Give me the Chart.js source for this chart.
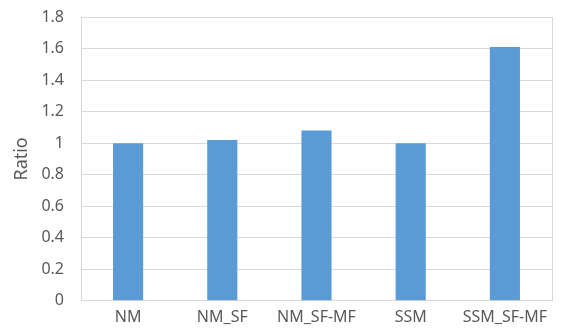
<!DOCTYPE html>
<html>
<head>
<meta charset="utf-8">
<script src="https://cdn.jsdelivr.net/npm/chart.js@4/dist/chart.umd.min.js"></script>
<style>
  html, body { margin: 0; padding: 0; background: #ffffff; }
  #wrap { width: 561px; height: 334px; position: relative; }
</style>
</head>
<body>
<div id="wrap"><canvas id="chart"></canvas></div>
<script>
// Model names and their ratio values
const categories = ['NM', 'NM_SF', 'NM_SF-MF', 'SSM', 'SSM_SF-MF'];
const ratios = [1.0, 1.02, 1.08, 1.0, 1.61];
const yTicks = [0, 0.2, 0.4, 0.6, 0.8, 1, 1.2, 1.4, 1.6, 1.8];

const textColor = '#595959';
const lineColor = '#d9d9d9';
const fontFamily = '"Noto Sans", "Open Sans", sans-serif';

// Draws the right-hand frame line of the plot area
const frameRight = {
  id: 'frameRight',
  afterDatasetsDraw(chart) {
    const { ctx, chartArea } = chart;
    ctx.save();
    ctx.strokeStyle = lineColor;
    ctx.lineWidth = 1;
    ctx.beginPath();
    const x = Math.round(chartArea.right) + 0.5;
    ctx.moveTo(x, chartArea.top);
    ctx.lineTo(x, chartArea.bottom);
    ctx.stroke();
    ctx.restore();
  }
};

new Chart(document.getElementById('chart'), {
  type: 'bar',
  data: {
    labels: categories,
    datasets: [{
      data: ratios,
      backgroundColor: '#5b9bd5',
      borderWidth: 0,
      categoryPercentage: 1,
      barPercentage: 0.32
    }]
  },
  options: {
    responsive: true,
    maintainAspectRatio: false,
    animation: false,
    devicePixelRatio: 1,
    layout: { padding: { top: 0, right: 9, bottom: 0, left: 0 } },
    plugins: {
      legend: { display: false },
      tooltip: { enabled: false }
    },
    scales: {
      x: {
        grid: { display: false, drawTicks: false },
        border: { display: true, color: lineColor, width: 1 },
        ticks: {
          color: textColor,
          font: { family: fontFamily, size: 16 },
          padding: 7,
          maxRotation: 0,
          autoSkip: false
        }
      },
      y: {
        min: 0,
        max: 1.8,
        afterBuildTicks(axis) {
          axis.ticks = yTicks.map(v => ({ value: v }));
        },
        // fixed axis band: plot starts at x = 81, top edge at y = 17
        afterFit(axis) {
          axis.width = 81;
          axis.paddingTop = 17;
        },
        grid: { color: lineColor, drawTicks: false, lineWidth: 1 },
        border: { display: true, color: lineColor, width: 1 },
        ticks: {
          color: textColor,
          font: { family: fontFamily, size: 16 },
          padding: 17,
          callback: v => String(v)
        },
        title: {
          display: true,
          text: 'Ratio',
          color: textColor,
          font: { family: fontFamily, size: 18 },
          padding: { top: 11, bottom: 0 }
        }
      }
    }
  },
  plugins: [frameRight]
});
</script>
</body>
</html>
